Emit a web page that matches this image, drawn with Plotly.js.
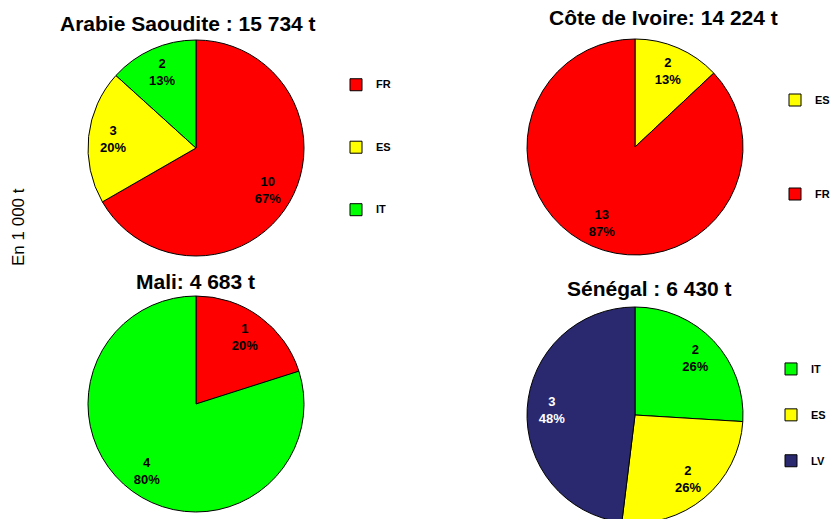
<!DOCTYPE html>
<html>
<head>
<meta charset="utf-8">
<script src="https://cdn.plot.ly/plotly-3.0.1.min.js"></script>
<style>
  html, body { margin: 0; padding: 0; overflow: hidden; background: #fff; }
</style>
</head>
<body>
<div id="chart"></div>
<script>
"use strict";

// exportations par pays, en milliers de tonnes
var titres = ['Arabie Saoudite : 15 734 t', 'Côte de Ivoire: 14 224 t', 'Mali: 4 683 t', 'Sénégal : 6 430 t'];

var arabie_codes = ['FR', 'ES', 'IT'];
var arabie_val = [10.49, 3.15, 2.09];
var arabie_txt = ['10', '3', '2'];

var ivoire_codes = ['ES', 'FR'];
var ivoire_val = [1.85, 12.37];
var ivoire_txt = ['2', '13'];

var mali_codes = ['FR', 'ES'];
var mali_val = [0.94, 3.74];
var mali_txt = ['1', '4'];

var senegal_codes = ['IT', 'ES', 'LV'];
var senegal_val = [1.67, 1.67, 3.09];
var senegal_txt = ['2', '2', '3'];

// couleurs des parts (chaque graphique a les siennes)
var ROUGE = '#FF0000', JAUNE = '#FFFF00', VERT = '#00FF00', BLEU = '#2A2970';
var arabie_coul = [ROUGE, JAUNE, VERT];
var ivoire_coul = [JAUNE, ROUGE];
var mali_coul = [ROUGE, VERT];
var senegal_coul = [VERT, JAUNE, BLEU];

var POLICE = 'Liberation Sans, Arial, sans-serif';
var W = 836, H = 528;

// domaine d'un camembert a partir de son centre et rayon en pixels
function domaine(cx, cy, r) {
  return { x: [(cx - r) / W, (cx + r) / W], y: [1 - (cy + r) / H, 1 - (cy - r) / H] };
}

// les lignes vides autour du code servent a espacer la legende
function etiquettes(codes, pad) {
  var br = '<br>'.repeat(pad);
  return codes.map(function (c) {
    return br + '<span style="font-size:11px"><b>' + c + '</b></span>' + br;
  });
}

// deux traces par camembert : la part pleine (avec legende) et par dessus
// un anneau transparent qui ne porte que les etiquettes, pour les pousser vers le bord
function camembert(codes, val, txt, coul, dom, leg, pad) {
  var labels = etiquettes(codes, pad);
  var fond = {
    type: 'pie',
    labels: labels,
    values: val,
    sort: false,
    direction: 'clockwise',
    rotation: 0,
    domain: dom,
    legend: leg,
    marker: { colors: coul, line: { color: '#000', width: 1 } },
    textinfo: 'none',
    hoverinfo: 'none'
  };
  var texte = {
    type: 'pie',
    labels: labels,
    values: val,
    text: txt,
    sort: false,
    direction: 'clockwise',
    rotation: 0,
    domain: dom,
    legend: leg,
    showlegend: false,
    hole: 0.54,
    marker: { colors: codes.map(function () { return 'rgba(0,0,0,0)'; }), line: { width: 0 } },
    texttemplate: '%{text}<br>%{percent:.0%}',
    textposition: 'inside',
    insidetextorientation: 'horizontal',
    textfont: {
      family: POLICE, size: 13, weight: 'bold',
      color: coul.map(function (c) { return c === BLEU ? '#fff' : '#000'; })
    },
    hoverinfo: 'none'
  };
  return [fond, texte];
}

var data = [].concat(
  camembert(arabie_codes, arabie_val, arabie_txt, arabie_coul, domaine(196, 148, 108), 'legend', 2),
  camembert(ivoire_codes, ivoire_val, ivoire_txt, ivoire_coul, domaine(635, 147, 108), 'legend2', 3),
  camembert(mali_codes, mali_val, mali_txt, mali_coul, domaine(196, 404, 108), 'legend3', 3),
  camembert(senegal_codes, senegal_val, senegal_txt, senegal_coul, domaine(635, 415, 108), 'legend4', 1)
);

function legende(px, py, taille) {
  return {
    x: px / W, y: 1 - py / H, xanchor: 'left', yanchor: 'middle',
    bgcolor: 'rgba(0,0,0,0)', borderwidth: 0,
    font: { family: POLICE, size: taille, color: '#000' }
  };
}

function titre(texte, px, py) {
  return {
    text: texte, xref: 'paper', yref: 'paper', x: px / W, y: 1 - py / H,
    xanchor: 'center', yanchor: 'middle', showarrow: false,
    font: { family: POLICE, size: 21, weight: 'bold', color: '#000' }
  };
}

var layout = {
  width: W,
  height: H,
  margin: { l: 0, r: 0, t: 0, b: 0 },
  paper_bgcolor: '#fff',
  showlegend: true,
  legend: legende(336, 147.5, 9.15),
  legend2: legende(775, 147, 10),
  legend3: legende(336, 405, 10),
  legend4: legende(771, 415, 11),
  annotations: [
    titre(titres[0], 187.5, 24),
    titre(titres[1], 663.5, 17),
    titre(titres[2], 195, 281),
    titre(titres[3], 649, 288),
    {
      text: 'En 1 000 t', xref: 'paper', yref: 'paper', x: 18 / W, y: 1 - 227 / H,
      xanchor: 'center', yanchor: 'middle', showarrow: false, textangle: -90,
      font: { family: POLICE, size: 17, color: '#000' }
    }
  ]
};

Plotly.newPlot('chart', data, layout, { displayModeBar: false, staticPlot: true });
</script>
</body>
</html>
